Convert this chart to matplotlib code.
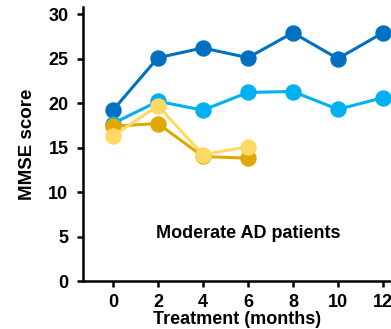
import matplotlib
matplotlib.use("Agg")
import matplotlib.pyplot as plt

months = [0, 2, 4, 6, 8, 10, 12]
months_short = [0, 2, 4, 6]
dark_blue = [19.2, 25.1, 26.2, 25.1, 27.9, 25.0, 27.9]
light_blue = [17.7, 20.2, 19.2, 21.2, 21.3, 19.3, 20.6]
dark_gold = [17.4, 17.7, 14.0, 13.8]
light_gold = [16.3, 19.7, 14.2, 15.1]

xticks = [0, 2, 4, 6, 8, 10, 12]
yticks = [0, 5, 10, 15, 20, 25, 30]

plt.rcParams['font.family'] = ['Liberation Sans', 'DejaVu Sans']
plt.rcParams['font.weight'] = 'bold'

fig = plt.figure(figsize=(3.91, 3.29), dpi=100)
ax = fig.add_axes([83/391, 48/329, 1 - 83/391, (281 - 7)/329])

lw = 2.2
ms = 10.8
ax.plot(months, dark_blue, color='#0070C0', lw=lw, marker='o', ms=ms, clip_on=False, zorder=3)
ax.plot(months, light_blue, color='#00B0F0', lw=lw, marker='o', ms=ms, clip_on=False, zorder=3)
ax.plot(months_short, dark_gold, color='#E0A800', lw=lw, marker='o', ms=ms, clip_on=False, zorder=3)
ax.plot(months_short, light_gold, color='#FFD966', lw=lw, marker='o', ms=ms, clip_on=False, zorder=3)

ax.set_xlim(-1.33, 12.36)
ax.set_ylim(0, 30.8)
ax.set_xticks(xticks)
ax.set_yticks(yticks)
ax.spines['top'].set_visible(False)
ax.spines['right'].set_visible(False)
for s in ['left', 'bottom']:
    ax.spines[s].set_linewidth(1.8)
ax.tick_params(width=1.8, length=4.5, labelsize=13)
ax.tick_params(axis='y', pad=6)
ax.tick_params(axis='x', pad=5)
for lab in ax.get_xticklabels() + ax.get_yticklabels():
    lab.set_fontweight('bold')

ax.set_xlabel('Treatment (months)', fontsize=13, fontweight='bold', labelpad=0)
ax.set_ylabel('MMSE score', fontsize=13.5, fontweight='bold', labelpad=9)
ax.text(6.0, 5.3, 'Moderate AD patients', ha='center', va='center', fontsize=13, fontweight='bold')

fig.savefig('out.png', dpi=100)
